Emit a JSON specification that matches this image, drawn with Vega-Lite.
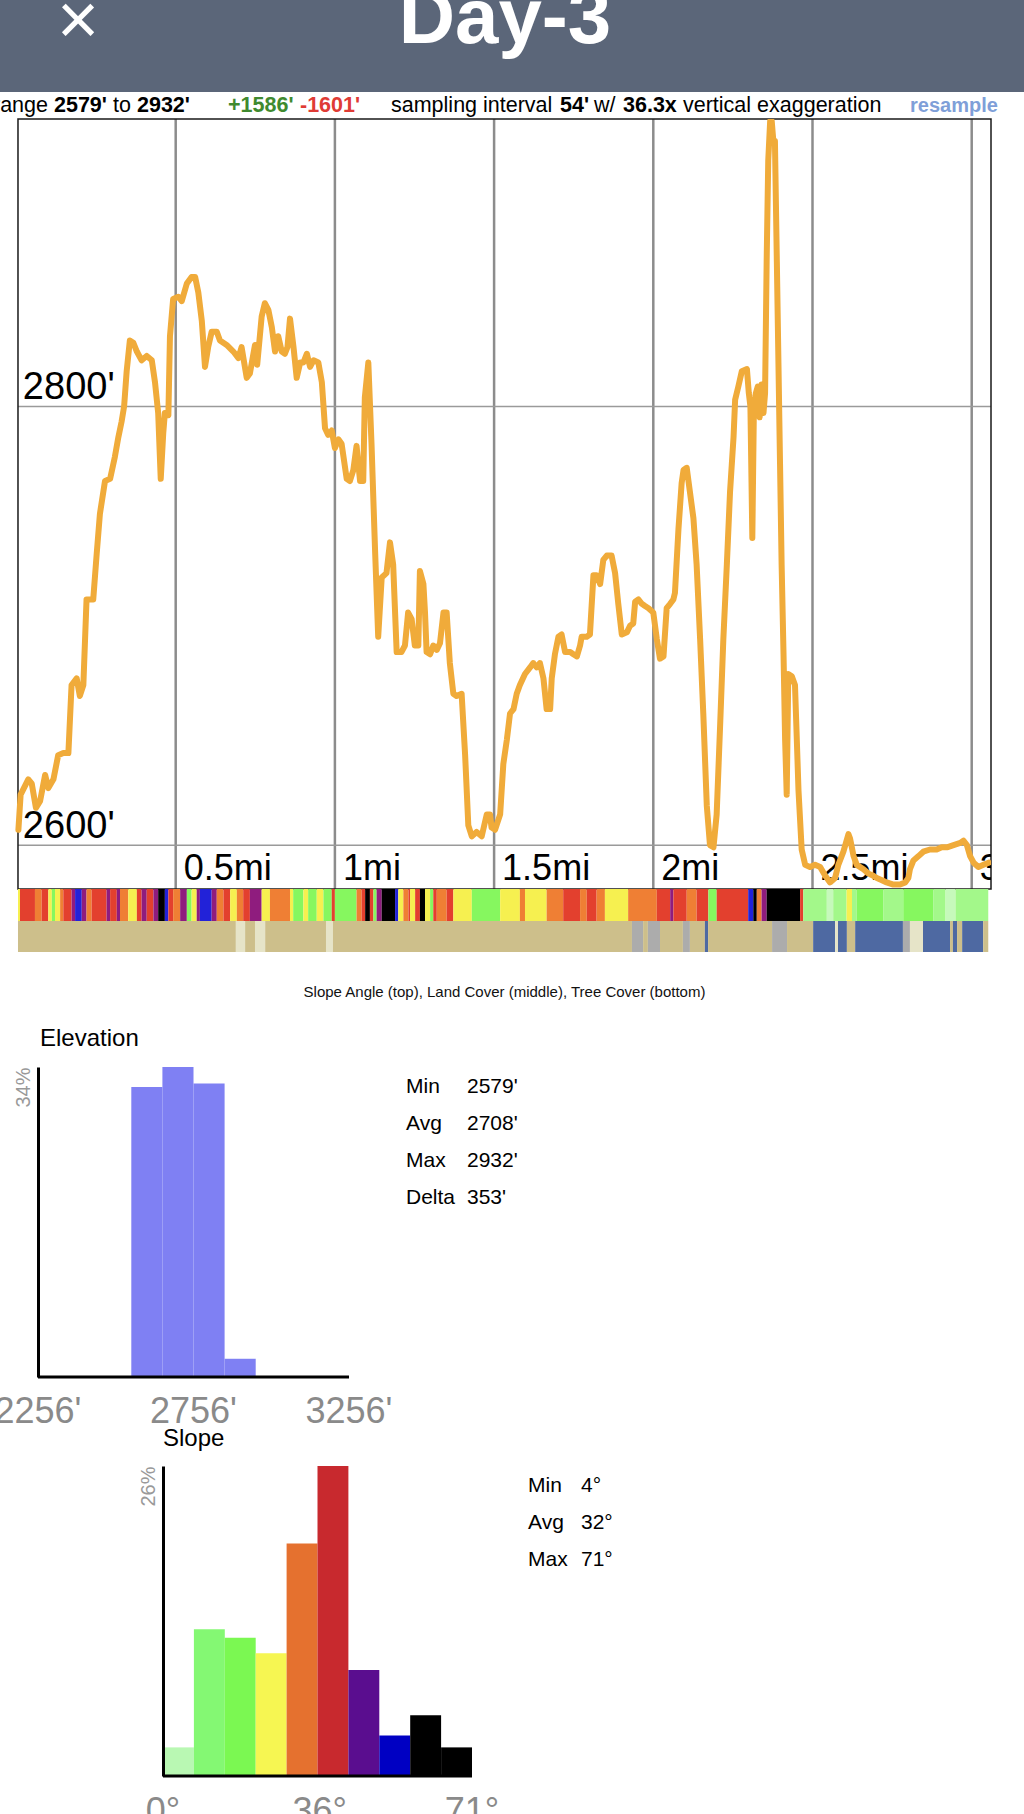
{
  "$schema": "https://vega.github.io/schema/vega-lite/v6.json",
  "padding": 0,
  "spacing": 0,
  "bounds": "flush",
  "background": "white",
  "resolve": {"scale": {"color": "independent", "x": "independent", "y": "independent"}},
  "config": {"view": {"stroke": null}, "font": "Liberation Sans"},
  "datasets": {
    "profile": [
      {"mi":0.006,"elev":2607},{"mi":0.013,"elev":2623},{"mi":0.037,"elev":2630},{"mi":0.048,"elev":2628},{"mi":0.061,"elev":2617},{"mi":0.074,"elev":2620},{"mi":0.090,"elev":2632},{"mi":0.100,"elev":2626},{"mi":0.116,"elev":2630},{"mi":0.131,"elev":2641},{"mi":0.147,"elev":2642},{"mi":0.163,"elev":2642},{"mi":0.173,"elev":2673},{"mi":0.189,"elev":2676},{"mi":0.199,"elev":2668},{"mi":0.210,"elev":2673},{"mi":0.220,"elev":2712},{"mi":0.241,"elev":2712},{"mi":0.252,"elev":2733},{"mi":0.262,"elev":2751},{"mi":0.278,"elev":2766},{"mi":0.294,"elev":2767},{"mi":0.309,"elev":2777},{"mi":0.320,"elev":2786},{"mi":0.330,"elev":2793},{"mi":0.338,"elev":2800},{"mi":0.346,"elev":2816},{"mi":0.356,"elev":2830},{"mi":0.367,"elev":2829},{"mi":0.378,"elev":2825},{"mi":0.393,"elev":2821},{"mi":0.409,"elev":2823},{"mi":0.425,"elev":2821},{"mi":0.435,"elev":2811},{"mi":0.445,"elev":2797},{"mi":0.453,"elev":2767},{"mi":0.461,"elev":2788},{"mi":0.466,"elev":2797},{"mi":0.477,"elev":2796},{"mi":0.482,"elev":2832},{"mi":0.492,"elev":2849},{"mi":0.508,"elev":2850},{"mi":0.519,"elev":2848},{"mi":0.535,"elev":2856},{"mi":0.550,"elev":2859},{"mi":0.561,"elev":2859},{"mi":0.571,"elev":2852},{"mi":0.582,"elev":2839},{"mi":0.592,"elev":2818},{"mi":0.602,"elev":2827},{"mi":0.613,"elev":2834},{"mi":0.629,"elev":2834},{"mi":0.639,"elev":2830},{"mi":0.660,"elev":2828},{"mi":0.681,"elev":2825},{"mi":0.697,"elev":2822},{"mi":0.707,"elev":2827},{"mi":0.723,"elev":2813},{"mi":0.733,"elev":2815},{"mi":0.749,"elev":2828},{"mi":0.756,"elev":2819},{"mi":0.770,"elev":2841},{"mi":0.780,"elev":2847},{"mi":0.791,"elev":2844},{"mi":0.802,"elev":2836},{"mi":0.812,"elev":2825},{"mi":0.822,"elev":2832},{"mi":0.833,"elev":2825},{"mi":0.843,"elev":2824},{"mi":0.851,"elev":2827},{"mi":0.859,"elev":2840},{"mi":0.870,"elev":2827},{"mi":0.880,"elev":2813},{"mi":0.891,"elev":2820},{"mi":0.901,"elev":2820},{"mi":0.912,"elev":2824},{"mi":0.922,"elev":2818},{"mi":0.933,"elev":2821},{"mi":0.948,"elev":2820},{"mi":0.959,"elev":2811},{"mi":0.969,"elev":2790},{"mi":0.979,"elev":2787},{"mi":0.990,"elev":2789},{"mi":1.000,"elev":2781},{"mi":1.011,"elev":2785},{"mi":1.021,"elev":2783},{"mi":1.037,"elev":2767},{"mi":1.047,"elev":2766},{"mi":1.058,"elev":2771},{"mi":1.068,"elev":2782},{"mi":1.079,"elev":2766},{"mi":1.089,"elev":2766},{"mi":1.094,"elev":2804},{"mi":1.105,"elev":2820},{"mi":1.115,"elev":2783},{"mi":1.126,"elev":2735},{"mi":1.136,"elev":2695},{"mi":1.147,"elev":2722},{"mi":1.162,"elev":2724},{"mi":1.173,"elev":2738},{"mi":1.183,"elev":2728},{"mi":1.194,"elev":2688},{"mi":1.209,"elev":2688},{"mi":1.220,"elev":2691},{"mi":1.230,"elev":2706},{"mi":1.241,"elev":2703},{"mi":1.251,"elev":2691},{"mi":1.262,"elev":2691},{"mi":1.267,"elev":2725},{"mi":1.278,"elev":2719},{"mi":1.283,"elev":2706},{"mi":1.288,"elev":2688},{"mi":1.299,"elev":2687},{"mi":1.309,"elev":2691},{"mi":1.320,"elev":2689},{"mi":1.330,"elev":2692},{"mi":1.341,"elev":2706},{"mi":1.351,"elev":2706},{"mi":1.361,"elev":2683},{"mi":1.372,"elev":2669},{"mi":1.382,"elev":2668},{"mi":1.398,"elev":2669},{"mi":1.409,"elev":2641},{"mi":1.419,"elev":2609},{"mi":1.430,"elev":2604},{"mi":1.445,"elev":2606},{"mi":1.461,"elev":2604},{"mi":1.477,"elev":2614},{"mi":1.487,"elev":2614},{"mi":1.492,"elev":2608},{"mi":1.503,"elev":2607},{"mi":1.519,"elev":2614},{"mi":1.529,"elev":2637},{"mi":1.540,"elev":2648},{"mi":1.550,"elev":2660},{"mi":1.561,"elev":2662},{"mi":1.571,"elev":2669},{"mi":1.581,"elev":2673},{"mi":1.597,"elev":2678},{"mi":1.613,"elev":2681},{"mi":1.623,"elev":2683},{"mi":1.634,"elev":2681},{"mi":1.644,"elev":2683},{"mi":1.655,"elev":2676},{"mi":1.665,"elev":2662},{"mi":1.676,"elev":2662},{"mi":1.681,"elev":2676},{"mi":1.691,"elev":2687},{"mi":1.702,"elev":2695},{"mi":1.712,"elev":2696},{"mi":1.723,"elev":2688},{"mi":1.739,"elev":2688},{"mi":1.749,"elev":2687},{"mi":1.760,"elev":2686},{"mi":1.770,"elev":2691},{"mi":1.775,"elev":2695},{"mi":1.791,"elev":2695},{"mi":1.801,"elev":2696},{"mi":1.812,"elev":2723},{"mi":1.822,"elev":2723},{"mi":1.833,"elev":2719},{"mi":1.843,"elev":2730},{"mi":1.854,"elev":2732},{"mi":1.869,"elev":2732},{"mi":1.880,"elev":2724},{"mi":1.890,"elev":2710},{"mi":1.901,"elev":2696},{"mi":1.917,"elev":2697},{"mi":1.927,"elev":2700},{"mi":1.937,"elev":2701},{"mi":1.943,"elev":2711},{"mi":1.953,"elev":2712},{"mi":1.964,"elev":2710},{"mi":1.974,"elev":2709},{"mi":1.985,"elev":2708},{"mi":2.000,"elev":2706},{"mi":2.011,"elev":2694},{"mi":2.021,"elev":2685},{"mi":2.032,"elev":2686},{"mi":2.042,"elev":2708},{"mi":2.053,"elev":2710},{"mi":2.063,"elev":2712},{"mi":2.068,"elev":2715},{"mi":2.079,"elev":2744},{"mi":2.089,"elev":2765},{"mi":2.095,"elev":2771},{"mi":2.105,"elev":2772},{"mi":2.115,"elev":2761},{"mi":2.126,"elev":2749},{"mi":2.136,"elev":2728},{"mi":2.147,"elev":2694},{"mi":2.157,"elev":2660},{"mi":2.168,"elev":2618},{"mi":2.178,"elev":2600},{"mi":2.189,"elev":2599},{"mi":2.199,"elev":2614},{"mi":2.210,"elev":2655},{"mi":2.220,"elev":2694},{"mi":2.231,"elev":2728},{"mi":2.241,"elev":2761},{"mi":2.252,"elev":2786},{"mi":2.257,"elev":2803},{"mi":2.267,"elev":2809},{"mi":2.278,"elev":2816},{"mi":2.294,"elev":2817},{"mi":2.300,"elev":2806},{"mi":2.305,"elev":2800},{"mi":2.311,"elev":2740},{"mi":2.316,"elev":2800},{"mi":2.322,"elev":2806},{"mi":2.328,"elev":2809},{"mi":2.334,"elev":2795},{"mi":2.340,"elev":2810},{"mi":2.346,"elev":2797},{"mi":2.351,"elev":2806},{"mi":2.356,"elev":2866},{"mi":2.361,"elev":2912},{"mi":2.367,"elev":2930},{"mi":2.372,"elev":2930},{"mi":2.377,"elev":2921},{"mi":2.382,"elev":2921},{"mi":2.388,"elev":2866},{"mi":2.393,"elev":2820},{"mi":2.398,"elev":2774},{"mi":2.403,"elev":2728},{"mi":2.409,"elev":2687},{"mi":2.414,"elev":2648},{"mi":2.419,"elev":2623},{"mi":2.424,"elev":2678},{"mi":2.435,"elev":2677},{"mi":2.445,"elev":2673},{"mi":2.456,"elev":2625},{"mi":2.466,"elev":2598},{"mi":2.477,"elev":2591},{"mi":2.492,"elev":2590},{"mi":2.508,"elev":2591},{"mi":2.524,"elev":2590},{"mi":2.540,"elev":2586},{"mi":2.555,"elev":2583},{"mi":2.571,"elev":2585},{"mi":2.581,"elev":2591},{"mi":2.597,"elev":2597},{"mi":2.613,"elev":2605},{"mi":2.618,"elev":2603},{"mi":2.629,"elev":2595},{"mi":2.639,"elev":2591},{"mi":2.660,"elev":2589},{"mi":2.676,"elev":2587},{"mi":2.691,"elev":2586},{"mi":2.702,"elev":2585},{"mi":2.718,"elev":2584},{"mi":2.733,"elev":2583},{"mi":2.754,"elev":2582},{"mi":2.775,"elev":2582},{"mi":2.791,"elev":2583},{"mi":2.801,"elev":2585},{"mi":2.806,"elev":2589},{"mi":2.817,"elev":2593},{"mi":2.833,"elev":2595},{"mi":2.848,"elev":2597},{"mi":2.869,"elev":2598},{"mi":2.890,"elev":2598},{"mi":2.906,"elev":2599},{"mi":2.922,"elev":2599},{"mi":2.943,"elev":2600},{"mi":2.964,"elev":2601},{"mi":2.974,"elev":2602},{"mi":2.985,"elev":2600},{"mi":2.995,"elev":2595},{"mi":3.006,"elev":2592},{"mi":3.021,"elev":2590},{"mi":3.037,"elev":2591},{"mi":3.053,"elev":2592}
    ],
    "slopeband": [
      {"from":0.0047,"to":0.011,"cls":3},{"from":0.011,"to":0.058,"cls":5},{"from":0.058,"to":0.079,"cls":4},{"from":0.079,"to":0.100,"cls":5},{"from":0.100,"to":0.111,"cls":3},{"from":0.111,"to":0.121,"cls":2},{"from":0.121,"to":0.137,"cls":3},{"from":0.137,"to":0.147,"cls":4},{"from":0.147,"to":0.173,"cls":5},{"from":0.173,"to":0.184,"cls":6},{"from":0.184,"to":0.205,"cls":7},{"from":0.205,"to":0.220,"cls":6},{"from":0.220,"to":0.236,"cls":4},{"from":0.236,"to":0.283,"cls":5},{"from":0.283,"to":0.294,"cls":6},{"from":0.294,"to":0.315,"cls":5},{"from":0.315,"to":0.325,"cls":6},{"from":0.325,"to":0.351,"cls":4},{"from":0.351,"to":0.378,"cls":3},{"from":0.378,"to":0.393,"cls":5},{"from":0.393,"to":0.409,"cls":6},{"from":0.409,"to":0.430,"cls":5},{"from":0.430,"to":0.445,"cls":6},{"from":0.445,"to":0.466,"cls":8},{"from":0.466,"to":0.477,"cls":7},{"from":0.477,"to":0.492,"cls":5},{"from":0.492,"to":0.514,"cls":4},{"from":0.514,"to":0.535,"cls":6},{"from":0.535,"to":0.550,"cls":2},{"from":0.550,"to":0.566,"cls":3},{"from":0.566,"to":0.576,"cls":6},{"from":0.576,"to":0.613,"cls":7},{"from":0.613,"to":0.629,"cls":6},{"from":0.629,"to":0.650,"cls":4},{"from":0.650,"to":0.671,"cls":5},{"from":0.671,"to":0.692,"cls":3},{"from":0.692,"to":0.712,"cls":4},{"from":0.712,"to":0.733,"cls":5},{"from":0.733,"to":0.770,"cls":6},{"from":0.770,"to":0.796,"cls":3},{"from":0.796,"to":0.859,"cls":4},{"from":0.859,"to":0.869,"cls":3},{"from":0.869,"to":0.901,"cls":2},{"from":0.901,"to":0.916,"cls":3},{"from":0.916,"to":0.943,"cls":2},{"from":0.943,"to":0.964,"cls":3},{"from":0.964,"to":0.990,"cls":2},{"from":0.990,"to":1.000,"cls":5},{"from":1.000,"to":1.068,"cls":2},{"from":1.068,"to":1.084,"cls":4},{"from":1.084,"to":1.095,"cls":5},{"from":1.095,"to":1.110,"cls":8},{"from":1.110,"to":1.121,"cls":5},{"from":1.121,"to":1.131,"cls":2},{"from":1.131,"to":1.147,"cls":6},{"from":1.147,"to":1.189,"cls":8},{"from":1.189,"to":1.199,"cls":7},{"from":1.199,"to":1.215,"cls":3},{"from":1.215,"to":1.231,"cls":4},{"from":1.231,"to":1.236,"cls":5},{"from":1.236,"to":1.252,"cls":3},{"from":1.252,"to":1.267,"cls":5},{"from":1.267,"to":1.283,"cls":8},{"from":1.283,"to":1.299,"cls":3},{"from":1.299,"to":1.309,"cls":2},{"from":1.309,"to":1.320,"cls":5},{"from":1.320,"to":1.351,"cls":4},{"from":1.351,"to":1.372,"cls":5},{"from":1.372,"to":1.430,"cls":3},{"from":1.430,"to":1.519,"cls":2},{"from":1.519,"to":1.581,"cls":3},{"from":1.581,"to":1.597,"cls":4},{"from":1.597,"to":1.665,"cls":3},{"from":1.665,"to":1.717,"cls":4},{"from":1.717,"to":1.770,"cls":5},{"from":1.770,"to":1.791,"cls":4},{"from":1.791,"to":1.822,"cls":5},{"from":1.822,"to":1.848,"cls":4},{"from":1.848,"to":1.921,"cls":3},{"from":1.921,"to":2.011,"cls":4},{"from":2.011,"to":2.053,"cls":5},{"from":2.053,"to":2.063,"cls":6},{"from":2.063,"to":2.105,"cls":5},{"from":2.105,"to":2.136,"cls":4},{"from":2.136,"to":2.173,"cls":5},{"from":2.173,"to":2.199,"cls":2},{"from":2.199,"to":2.298,"cls":5},{"from":2.298,"to":2.314,"cls":7},{"from":2.314,"to":2.325,"cls":8},{"from":2.325,"to":2.340,"cls":4},{"from":2.340,"to":2.356,"cls":6},{"from":2.356,"to":2.461,"cls":8},{"from":2.461,"to":2.471,"cls":5},{"from":2.471,"to":2.545,"cls":1},{"from":2.545,"to":2.565,"cls":0},{"from":2.565,"to":2.607,"cls":1},{"from":2.607,"to":2.624,"cls":3},{"from":2.624,"to":2.639,"cls":1},{"from":2.639,"to":2.722,"cls":2},{"from":2.722,"to":2.785,"cls":1},{"from":2.785,"to":2.879,"cls":2},{"from":2.879,"to":2.918,"cls":1},{"from":2.918,"to":2.949,"cls":0},{"from":2.949,"to":3.052,"cls":1}
    ],
    "landband": [
      {"from":0.0047,"to":0.689,"cover":"Shrub/Scrub"},{"from":0.689,"to":0.718,"cover":"Grassland"},{"from":0.718,"to":0.749,"cover":"Shrub/Scrub"},{"from":0.749,"to":0.781,"cover":"Grassland"},{"from":0.781,"to":0.972,"cover":"Shrub/Scrub"},{"from":0.972,"to":0.994,"cover":"Grassland"},{"from":0.994,"to":1.933,"cover":"Shrub/Scrub"},{"from":1.933,"to":1.968,"cover":"Barren"},{"from":1.968,"to":1.983,"cover":"Shrub/Scrub"},{"from":1.983,"to":2.021,"cover":"Barren"},{"from":2.021,"to":2.093,"cover":"Shrub/Scrub"},{"from":2.093,"to":2.115,"cover":"Barren"},{"from":2.115,"to":2.162,"cover":"Shrub/Scrub"},{"from":2.162,"to":2.172,"cover":"Water"},{"from":2.172,"to":2.373,"cover":"Shrub/Scrub"},{"from":2.373,"to":2.420,"cover":"Barren"},{"from":2.420,"to":2.502,"cover":"Shrub/Scrub"},{"from":2.502,"to":2.571,"cover":"Water"},{"from":2.571,"to":2.580,"cover":"Grassland"},{"from":2.580,"to":2.608,"cover":"Water"},{"from":2.608,"to":2.634,"cover":"Shrub/Scrub"},{"from":2.634,"to":2.784,"cover":"Water"},{"from":2.784,"to":2.806,"cover":"Barren"},{"from":2.806,"to":2.847,"cover":"Grassland"},{"from":2.847,"to":2.932,"cover":"Water"},{"from":2.932,"to":2.941,"cover":"Shrub/Scrub"},{"from":2.941,"to":2.954,"cover":"Water"},{"from":2.954,"to":2.970,"cover":"Shrub/Scrub"},{"from":2.970,"to":3.036,"cover":"Water"},{"from":3.036,"to":3.052,"cover":"Shrub/Scrub"}
    ],
    "elevhist": [
      {"lo":2556,"hi":2656,"pct":31.8},{"lo":2656,"hi":2756,"pct":34.0},{"lo":2756,"hi":2856,"pct":32.2},{"lo":2856,"hi":2956,"pct":2.0}
    ],
    "slopehist": [
      {"lo":0,"hi":7.1,"pct":2.4,"cls":0},{"lo":7.1,"hi":14.2,"pct":12.3,"cls":1},{"lo":14.2,"hi":21.3,"pct":11.6,"cls":2},{"lo":21.3,"hi":28.4,"pct":10.3,"cls":3},{"lo":28.4,"hi":35.5,"pct":19.5,"cls":4},{"lo":35.5,"hi":42.6,"pct":26.0,"cls":5},{"lo":42.6,"hi":49.7,"pct":8.9,"cls":6},{"lo":49.7,"hi":56.8,"pct":3.4,"cls":7},{"lo":56.8,"hi":63.9,"pct":5.1,"cls":8},{"lo":63.9,"hi":71,"pct":2.4,"cls":9}
    ],
    "elevstats": [
      {"line":0,"col":0,"txt":"Min"},{"line":0,"col":1,"txt":"2579'"},
      {"line":1,"col":0,"txt":"Avg"},{"line":1,"col":1,"txt":"2708'"},
      {"line":2,"col":0,"txt":"Max"},{"line":2,"col":1,"txt":"2932'"},
      {"line":3,"col":0,"txt":"Delta"},{"line":3,"col":1,"txt":"353'"}
    ],
    "slopestats": [
      {"line":0,"col":0,"txt":"Min"},{"line":0,"col":1,"txt":"4°"},
      {"line":1,"col":0,"txt":"Avg"},{"line":1,"col":1,"txt":"32°"},
      {"line":2,"col":0,"txt":"Max"},{"line":2,"col":1,"txt":"71°"}
    ]
  },
  "vconcat": [
    {
      "width": 1024, "height": 92,
      "view": {"fill": "#5b6679", "stroke": null},
      "data": {"values": [{"title": "Day-3", "close": "×"}]},
      "layer": [
        {"mark": {"type": "text", "clip": true, "color": "white", "fontSize": 78, "fontWeight": "bold", "align": "center", "baseline": "alphabetic", "dx": -7, "dy": -3}, "encoding": {"text": {"field": "title"}}},
        {"mark": {"type": "text", "clip": true, "color": "white", "fontSize": 72, "align": "center", "baseline": "alphabetic", "dx": -434, "dy": -2}, "encoding": {"text": {"field": "close"}}}
      ]
    },
    {
      "width": 1024, "height": 27,
      "layer": [
        {"data": {"values": [{"t": "range"}]}, "mark": {"type": "text", "clip": true, "align": "left", "baseline": "alphabetic", "fontSize": 21.5, "dx": -519, "dy": 6.5, "color": "#000"}, "encoding": {"text": {"field": "t"}}},
        {"data": {"values": [{"t": "2579'"}]}, "mark": {"type": "text", "clip": true, "align": "left", "baseline": "alphabetic", "fontSize": 21.5, "fontWeight": "bold", "dx": -458, "dy": 6.5, "color": "#000"}, "encoding": {"text": {"field": "t"}}},
        {"data": {"values": [{"t": "to"}]}, "mark": {"type": "text", "clip": true, "align": "left", "baseline": "alphabetic", "fontSize": 21.5, "dx": -399, "dy": 6.5, "color": "#000"}, "encoding": {"text": {"field": "t"}}},
        {"data": {"values": [{"t": "2932'"}]}, "mark": {"type": "text", "clip": true, "align": "left", "baseline": "alphabetic", "fontSize": 21.5, "fontWeight": "bold", "dx": -375, "dy": 6.5, "color": "#000"}, "encoding": {"text": {"field": "t"}}},
        {"data": {"values": [{"t": "+1586'"}]}, "mark": {"type": "text", "clip": true, "align": "left", "baseline": "alphabetic", "fontSize": 21.5, "fontWeight": "bold", "dx": -284, "dy": 6.5, "color": "#3f8a2f"}, "encoding": {"text": {"field": "t"}}},
        {"data": {"values": [{"t": "-1601'"}]}, "mark": {"type": "text", "clip": true, "align": "left", "baseline": "alphabetic", "fontSize": 21.5, "fontWeight": "bold", "dx": -212, "dy": 6.5, "color": "#df3b35"}, "encoding": {"text": {"field": "t"}}},
        {"data": {"values": [{"t": "sampling interval"}]}, "mark": {"type": "text", "clip": true, "align": "left", "baseline": "alphabetic", "fontSize": 21.5, "dx": -121, "dy": 6.5, "color": "#000"}, "encoding": {"text": {"field": "t"}}},
        {"data": {"values": [{"t": "54'"}]}, "mark": {"type": "text", "clip": true, "align": "left", "baseline": "alphabetic", "fontSize": 21.5, "fontWeight": "bold", "dx": 48, "dy": 6.5, "color": "#000"}, "encoding": {"text": {"field": "t"}}},
        {"data": {"values": [{"t": "w/"}]}, "mark": {"type": "text", "clip": true, "align": "left", "baseline": "alphabetic", "fontSize": 21.5, "dx": 82, "dy": 6.5, "color": "#000"}, "encoding": {"text": {"field": "t"}}},
        {"data": {"values": [{"t": "36.3x"}]}, "mark": {"type": "text", "clip": true, "align": "left", "baseline": "alphabetic", "fontSize": 21.5, "fontWeight": "bold", "dx": 111, "dy": 6.5, "color": "#000"}, "encoding": {"text": {"field": "t"}}},
        {"data": {"values": [{"t": "vertical exaggeration"}]}, "mark": {"type": "text", "clip": true, "align": "left", "baseline": "alphabetic", "fontSize": 21.5, "dx": 171, "dy": 6.5, "color": "#000"}, "encoding": {"text": {"field": "t"}}},
        {"data": {"values": [{"t": "resample"}]}, "mark": {"type": "text", "clip": true, "align": "left", "baseline": "alphabetic", "fontSize": 20, "fontWeight": "bold", "dx": 398, "dy": 6.5, "color": "#7f9fd8"}, "encoding": {"text": {"field": "t"}}}
      ]
    },
    {
      "width": 991, "height": 770,
      "layer": [
        {
          "data": {"values": [{"mi": 0.5}, {"mi": 1}, {"mi": 1.5}, {"mi": 2}, {"mi": 2.5}, {"mi": 3}]},
          "mark": {"type": "rule", "color": "#8c8c8c", "strokeWidth": 2.5},
          "encoding": {
            "x": {"field": "mi", "type": "quantitative", "scale": {"domain": [-0.0518, 3.0606], "nice": false, "zero": false}, "axis": null}
          }
        },
        {
          "data": {"values": [{"elev": 2600}, {"elev": 2800}]},
          "mark": {"type": "rule", "color": "#9a9a9a", "strokeWidth": 1.5},
          "encoding": {
            "x": {"datum": 0.0047, "type": "quantitative", "scale": {"domain": [-0.0518, 3.0606], "nice": false, "zero": false}, "axis": null},
            "x2": {"datum": 3.0606},
            "y": {"field": "elev", "type": "quantitative", "scale": {"domain": [2580, 2931], "nice": false, "zero": false}, "axis": null}
          }
        },
        {
          "data": {"values": [{}]},
          "mark": {"type": "rect", "fillOpacity": 0, "stroke": "#1a1a1a", "strokeWidth": 1.5},
          "encoding": {
            "x": {"datum": 0.0047, "type": "quantitative", "scale": {"domain": [-0.0518, 3.0606], "nice": false, "zero": false}, "axis": null},
            "x2": {"datum": 3.0606}
          }
        },
        {
          "data": {"values": [{"mi": 0.5, "t": "0.5mi"}, {"mi": 1, "t": "1mi"}, {"mi": 1.5, "t": "1.5mi"}, {"mi": 2, "t": "2mi"}, {"mi": 2.5, "t": "2.5mi"}, {"mi": 3, "t": "3mi"}]},
          "mark": {"type": "text", "clip": true, "align": "left", "baseline": "alphabetic", "fontSize": 36, "dx": 8, "dy": -9, "color": "#000"},
          "encoding": {
            "x": {"field": "mi", "type": "quantitative", "scale": {"domain": [-0.0518, 3.0606], "nice": false, "zero": false}, "axis": null},
            "y": {"datum": 2580, "type": "quantitative", "scale": {"domain": [2580, 2931], "nice": false, "zero": false}, "axis": null},
            "text": {"field": "t"}
          }
        },
        {
          "data": {"values": [{"elev": 2600, "t": "2600'"}, {"elev": 2800, "t": "2800'"}]},
          "mark": {"type": "text", "clip": true, "align": "left", "baseline": "alphabetic", "fontSize": 38, "dy": -7, "color": "#000"},
          "encoding": {
            "x": {"datum": 0.02, "type": "quantitative", "scale": {"domain": [-0.0518, 3.0606], "nice": false, "zero": false}, "axis": null},
            "y": {"field": "elev", "type": "quantitative", "scale": {"domain": [2580, 2931], "nice": false, "zero": false}, "axis": null},
            "text": {"field": "t"}
          }
        },
        {
          "data": {"name": "profile"},
          "mark": {"type": "line", "color": "#f0ab3a", "strokeWidth": 6, "clip": true, "strokeJoin": "round", "strokeCap": "round"},
          "encoding": {
            "x": {"field": "mi", "type": "quantitative", "scale": {"domain": [-0.0518, 3.0606], "nice": false, "zero": false}, "axis": null},
            "y": {"field": "elev", "type": "quantitative", "scale": {"domain": [2580, 2931], "nice": false, "zero": false}, "axis": null}
          }
        }
      ]
    },
    {
      "width": 991, "height": 32,
      "data": {"name": "slopeband"},
      "mark": {"type": "rect"},
      "encoding": {
        "x": {"field": "from", "type": "quantitative", "scale": {"domain": [-0.0518, 3.0606], "nice": false, "zero": false}, "axis": null},
        "x2": {"field": "to"},
        "color": {"field": "cls", "type": "ordinal", "scale": {"domain": [0, 1, 2, 3, 4, 5, 6, 7, 8], "range": ["#c6f9bb", "#a3f88a", "#86f75f", "#f6f050", "#ef7f34", "#e3402e", "#8f1c7e", "#2222d8", "#000000"]}, "legend": null}
      }
    },
    {
      "width": 991, "height": 31,
      "data": {"name": "landband"},
      "mark": {"type": "rect"},
      "encoding": {
        "x": {"field": "from", "type": "quantitative", "scale": {"domain": [-0.0518, 3.0606], "nice": false, "zero": false}, "axis": null},
        "x2": {"field": "to"},
        "color": {"field": "cover", "type": "nominal", "scale": {"domain": ["Shrub/Scrub", "Grassland", "Barren", "Water"], "range": ["#cdbf8b", "#e6e4c8", "#acacac", "#4e69a2"]}, "legend": null}
      }
    },
    {
      "width": 1024, "height": 115,
      "data": {"values": [{"t": "Slope Angle (top), Land Cover (middle), Tree Cover (bottom)"}]},
      "mark": {"type": "text", "fontSize": 15, "dx": -7.5, "dy": -17.5, "align": "center", "baseline": "middle", "color": "#111"},
      "encoding": {"text": {"field": "t"}}
    },
    {
      "width": 1024, "height": 310,
      "title": {"text": "Elevation", "anchor": "start", "frame": "group", "fontSize": 24, "fontWeight": "normal", "color": "#000", "baseline": "bottom", "offset": -8, "dx": 40},
      "resolve": {"scale": {"x": "independent", "y": "independent"}},
      "layer": [
        {
          "data": {"name": "elevhist"},
          "mark": {"type": "rect", "color": "#7f80f3"},
          "encoding": {
            "x": {"field": "lo", "type": "quantitative", "scale": {"domain": [2133.8, 5426.4], "nice": false, "zero": false}, "axis": null},
            "x2": {"field": "hi"},
            "y": {"field": "pct", "type": "quantitative", "scale": {"domain": [0, 34], "nice": false}, "axis": {"values": [34], "offset": -38, "labelExpr": "'34%'", "labelAngle": -90, "labelAlign": "right", "labelBaseline": "bottom", "labelFlush": false, "labelPadding": 5, "labelColor": "#999", "labelFontSize": 20, "ticks": false, "tickSize": 0, "domainColor": "#000", "domainWidth": 3, "grid": false, "title": null, "zindex": 1}},
            "y2": {"datum": 0}
          }
        },
        {
          "data": {"values": [{}]},
          "mark": {"type": "rule", "color": "#000", "strokeWidth": 3},
          "encoding": {
            "x": {"datum": 2256, "type": "quantitative", "scale": {"domain": [2133.8, 5426.4], "nice": false, "zero": false}, "axis": null},
            "x2": {"datum": 3256},
            "y": {"datum": 0, "type": "quantitative", "scale": {"domain": [0, 34], "nice": false}, "axis": null}
          }
        },
        {
          "data": {"name": "elevstats"},
          "mark": {"type": "text", "align": "left", "baseline": "middle", "fontSize": 21, "color": "#000"},
          "encoding": {
            "x": {"field": "col", "type": "quantitative", "scale": {"domain": [-6.656, 10.131], "nice": false, "zero": false}, "axis": null},
            "y": {"field": "line", "type": "quantitative", "scale": {"domain": [-0.54, 7.838], "nice": false, "zero": false, "reverse": true}, "axis": null},
            "text": {"field": "txt"}
          }
        }
      ]
    },
    {
      "width": 400, "height": 89,
      "data": {"values": [{"v": 2256, "t": "2256'"}, {"v": 2756, "t": "2756'"}, {"v": 3256, "t": "3256'"}]},
      "mark": {"type": "text", "clip": true, "align": "center", "baseline": "alphabetic", "fontSize": 36, "color": "#8a8a8a", "dy": 1.5},
      "encoding": {
        "x": {"field": "v", "type": "quantitative", "scale": {"domain": [2133.8, 3420], "nice": false, "zero": false}, "axis": null},
        "text": {"field": "t"}
      }
    },
    {
      "width": 1024, "height": 310,
      "title": {"text": "Slope", "anchor": "start", "frame": "group", "fontSize": 24, "fontWeight": "normal", "color": "#000", "baseline": "bottom", "offset": -9, "dx": 163},
      "resolve": {"scale": {"x": "independent", "y": "independent"}},
      "layer": [
        {
          "data": {"name": "slopehist"},
          "mark": {"type": "rect"},
          "encoding": {
            "x": {"field": "lo", "type": "quantitative", "scale": {"domain": [-37.453, 197.836], "nice": false, "zero": false}, "axis": null},
            "x2": {"field": "hi"},
            "y": {"field": "pct", "type": "quantitative", "scale": {"domain": [0, 26], "nice": false}, "axis": {"values": [26], "offset": -163, "labelExpr": "'26%'", "labelAngle": -90, "labelAlign": "right", "labelBaseline": "bottom", "labelFlush": false, "labelPadding": 5, "labelColor": "#999", "labelFontSize": 20, "ticks": false, "tickSize": 0, "domainColor": "#000", "domainWidth": 3, "grid": false, "title": null, "zindex": 1}},
            "y2": {"datum": 0},
            "color": {"field": "cls", "type": "ordinal", "scale": {"domain": [0, 1, 2, 3, 4, 5, 6, 7, 8, 9], "range": ["#b9f8b3", "#84f873", "#7bf852", "#f6f652", "#e5712f", "#c8292e", "#5a0d8f", "#0000c3", "#000000", "#000000"]}, "legend": null}
          }
        },
        {
          "data": {"values": [{}]},
          "mark": {"type": "rule", "color": "#000", "strokeWidth": 3},
          "encoding": {
            "x": {"datum": 0, "type": "quantitative", "scale": {"domain": [-37.453, 197.836], "nice": false, "zero": false}, "axis": null},
            "x2": {"datum": 71},
            "y": {"datum": 0, "type": "quantitative", "scale": {"domain": [0, 26], "nice": false}, "axis": null}
          }
        },
        {
          "data": {"name": "slopestats"},
          "mark": {"type": "text", "align": "left", "baseline": "middle", "fontSize": 21, "color": "#000"},
          "encoding": {
            "x": {"field": "col", "type": "quantitative", "scale": {"domain": [-9.962, 9.358], "nice": false, "zero": false}, "axis": null},
            "y": {"field": "line", "type": "quantitative", "scale": {"domain": [-0.54, 7.838], "nice": false, "zero": false, "reverse": true}, "axis": null},
            "text": {"field": "txt"}
          }
        }
      ]
    },
    {
      "width": 563, "height": 38,
      "data": {"values": [{"v": 0, "t": "0°"}, {"v": 36, "t": "36°"}, {"v": 71, "t": "71°"}]},
      "mark": {"type": "text", "clip": true, "align": "center", "baseline": "alphabetic", "fontSize": 36, "color": "#8a8a8a", "dy": 28},
      "encoding": {
        "x": {"field": "v", "type": "quantitative", "scale": {"domain": [-37.453, 91.909], "nice": false, "zero": false}, "axis": null},
        "text": {"field": "t"}
      }
    }
  ]
}
